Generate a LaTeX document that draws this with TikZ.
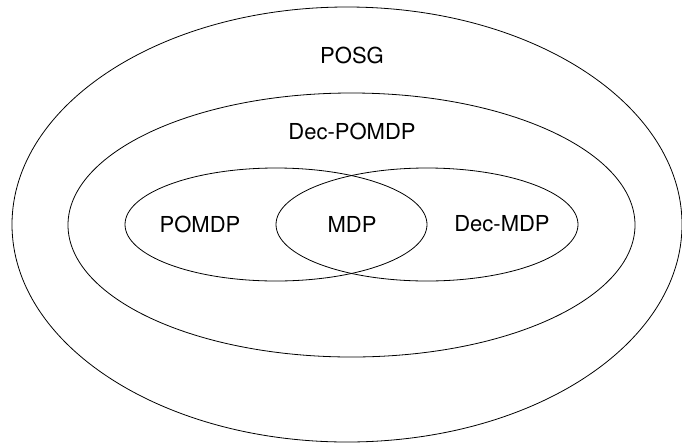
\documentclass[tikz,border=0pt]{standalone}
\usepackage{fontspec}
\setmainfont{TeX Gyre Heros}
\usetikzlibrary{shapes.geometric}
\begin{document}
\begin{tikzpicture}[x=1pt, y=-1pt,
  classset/.style={draw, ellipse, inner sep=0pt, line width=0.8pt},
  classname/.style={font=\fontsize{22}{26}\selectfont, inner sep=0pt}]
\useasboundingbox (0,0) rectangle (682,445);
% nested model classes
\node[classset, minimum width=670pt, minimum height=435pt] (posg) at (347,224.5) {};
\node[classset, minimum width=567pt, minimum height=264pt] (decpomdp) at (351.5,225) {};
\node[classset, minimum width=302pt, minimum height=113pt] (pomdp) at (276,224.5) {};
\node[classset, minimum width=302pt, minimum height=113pt] (decmdp) at (427,224.5) {};
% class names
\node[classname] (posglbl) at (352,55) {POSG};
\node[classname] (decpomdplbl) at (352,131) {Dec-POMDP};
\node[classname] (pomdplbl) at (200,224) {POMDP};
\node[classname] (mdplbl) at (352,224) {MDP};
\node[classname] (decmdplbl) at (502,224) {Dec-MDP};
\end{tikzpicture}
\end{document}
